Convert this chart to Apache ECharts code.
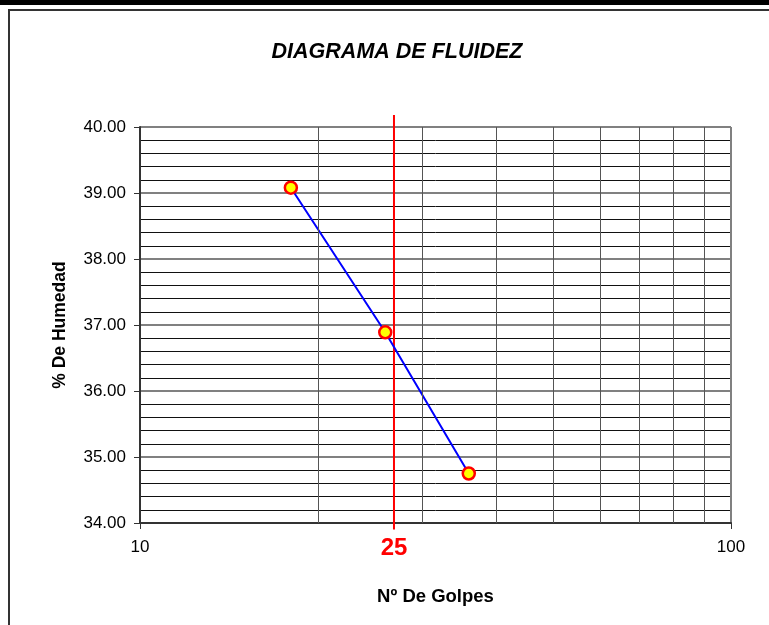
<!DOCTYPE html>
<html>
<head>
<meta charset="utf-8">
<script src="https://cdn.jsdelivr.net/npm/echarts@6/dist/echarts.min.js"></script>
<style>
  html, body { margin: 0; padding: 0; background: #fff; }
  .topBar { position: absolute; left: 0; top: 0; width: 769px; height: 5px; background: #000; }
  .frame { position: absolute; left: 8px; top: 9px; width: 780px; height: 640px; border: 2px solid #333; }
  #chart { position: absolute; left: 0; top: 0; width: 769px; height: 625px; }
</style>
</head>
<body>
<div class="topBar"></div>
<div class="frame"></div>
<div id="chart"></div>
<script>
// 数据
var golpes = [18, 26, 36];             // Nº de golpes
var humedad = [39.08, 36.89, 34.75];   // % de humedad
var xGridValues = [20, 30, 40, 50, 60, 70, 80, 90];
var refLineX = 26.9;                   // red line as placed in the picture
var refLineLabel = "25";
var refLineY = [33.9, 40.18];

var chart = echarts.init(document.getElementById("chart"));

var points = golpes.map(function (g, i) { return [g, humedad[i]]; });

var option = {
  animation: false,
  backgroundColor: "transparent",
  title: {
    text: "DIAGRAMA DE FLUIDEZ",
    left: 392,
    textAlign: "center",
    top: 36,
    textStyle: {
      fontFamily: "Liberation Sans",
      fontStyle: "italic",
      fontWeight: "bold",
      fontSize: 21.5,
      color: "#000",
    },
  },
  grid: { left: 140, right: 38, top: 127, bottom: 102 },
  xAxis: {
    type: "log",
    logBase: 10,
    min: 10,
    max: 100,
    name: "Nº De Golpes",
    nameLocation: "middle",
    nameGap: 64,
    nameTextStyle: { fontFamily: "Liberation Sans", fontWeight: "bold", fontSize: 18.5, color: "#000" },
    axisLine: { onZero: false, lineStyle: { color: "#333", width: 2 } },
    axisTick: { show: true, length: 6, lineStyle: { color: "#333", width: 1 } },
    axisLabel: { margin: 16, fontFamily: "Liberation Sans", fontSize: 17, color: "#000" },
    splitLine: { show: true, lineStyle: { color: "#808080", width: 2 } },
  },
  yAxis: {
    type: "value",
    min: 34,
    max: 40,
    interval: 1,
    name: "% De Humedad",
    nameLocation: "middle",
    nameRotate: 90,
    nameGap: 71,
    nameTextStyle: { fontFamily: "Liberation Sans", fontWeight: "bold", fontSize: 17.5, color: "#000" },
    axisLine: { show: true, lineStyle: { color: "#333", width: 2 } },
    axisTick: { show: true, length: 6, lineStyle: { color: "#333", width: 1 } },
    axisLabel: {
      margin: 14,
      fontFamily: "Liberation Sans",
      fontSize: 17,
      color: "#000",
      formatter: function (v) { return v.toFixed(2); },
    },
    splitLine: { show: true, lineStyle: { color: "#808080", width: 2 } },
    minorTick: { show: false, splitNumber: 5 },
    minorSplitLine: { show: true, lineStyle: { color: "#111", width: 1 } },
  },
  series: [
    {
      // lineas verticales de la grilla
      type: "line",
      data: [],
      silent: true,
      markLine: {
        silent: true,
        symbol: "none",
        label: { show: false },
        lineStyle: { color: "#555", width: 1, type: "solid" },
        data: xGridValues.map(function (v) { return { xAxis: v }; }),
      },
    },
    {
      // linea roja de 25 golpes
      type: "line",
      clip: false,
      silent: true,
      showSymbol: true,
      symbol: "circle",
      symbolSize: 1,
      itemStyle: { color: "rgba(0,0,0,0)" },
      lineStyle: { color: "#FF0000", width: 2 },
      data: [
        {
          value: [refLineX, refLineY[0]],
          label: {
            show: true,
            position: "bottom",
            distance: 6,
            formatter: refLineLabel,
            fontFamily: "Liberation Sans",
            fontWeight: "bold",
            fontSize: 24,
            color: "#FF0000",
          },
        },
        { value: [refLineX, refLineY[1]] },
      ],
      z: 3,
    },
    {
      type: "line",
      data: points,
      symbol: "circle",
      symbolSize: 12,
      lineStyle: { color: "#0000FF", width: 2 },
      itemStyle: { color: "#FFFF00", borderColor: "#FF0000", borderWidth: 2.5 },
      z: 4,
    },
  ],
};

chart.setOption(option);
</script>
</body>
</html>
